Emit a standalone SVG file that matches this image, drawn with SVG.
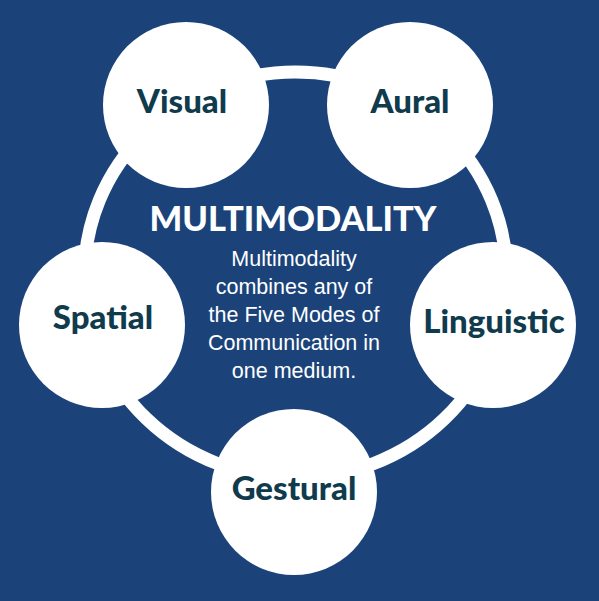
<svg xmlns="http://www.w3.org/2000/svg" width="599" height="601" viewBox="0 0 599 601">
<style>
.node{fill:#ffffff}
.lbl{font-family:Lato,"Noto Sans",sans-serif;font-weight:900;font-size:33px;fill:#103b4d;text-anchor:middle}
.title{font-family:Lato,"Noto Sans",sans-serif;font-weight:900;font-size:34px;fill:#ffffff;text-anchor:middle}
.body{font-family:"Liberation Sans",Arial,sans-serif;font-size:21.5px;fill:#ffffff;text-anchor:middle}
.ring{fill:none;stroke:#ffffff;stroke-width:13}
</style>
<rect x="0" y="0" width="599" height="601" fill="#1b437a"/>
<g id="connectors">
<ellipse class="ring" cx="295.5" cy="275" rx="211" ry="203"/>
</g>
<g id="center">
<text class="title" x="293" y="231" textLength="287" lengthAdjust="spacingAndGlyphs">MULTIMODALITY</text>
<text class="body" x="294" y="266">Multimodality</text>
<text class="body" x="294" y="294">combines any of</text>
<text class="body" x="294" y="322">the Five Modes of</text>
<text class="body" x="294" y="350">Communication in</text>
<text class="body" x="294" y="378">one medium.</text>
</g>
<g id="visual"><circle class="node" cx="186" cy="105" r="83"/><text class="lbl" x="182" y="113">Visual</text></g>
<g id="aural"><circle class="node" cx="410" cy="105" r="83"/><text class="lbl" x="410" y="113">Aural</text></g>
<g id="spatial"><circle class="node" cx="102" cy="325" r="83"/><text class="lbl" x="103" y="329">Spatial</text></g>
<g id="linguistic"><circle class="node" cx="493" cy="325" r="83"/><text class="lbl" x="494" y="333">Linguistic</text></g>
<g id="gestural"><circle class="node" cx="294" cy="492" r="83"/><text class="lbl" x="294" y="500">Gestural</text></g>
</svg>
